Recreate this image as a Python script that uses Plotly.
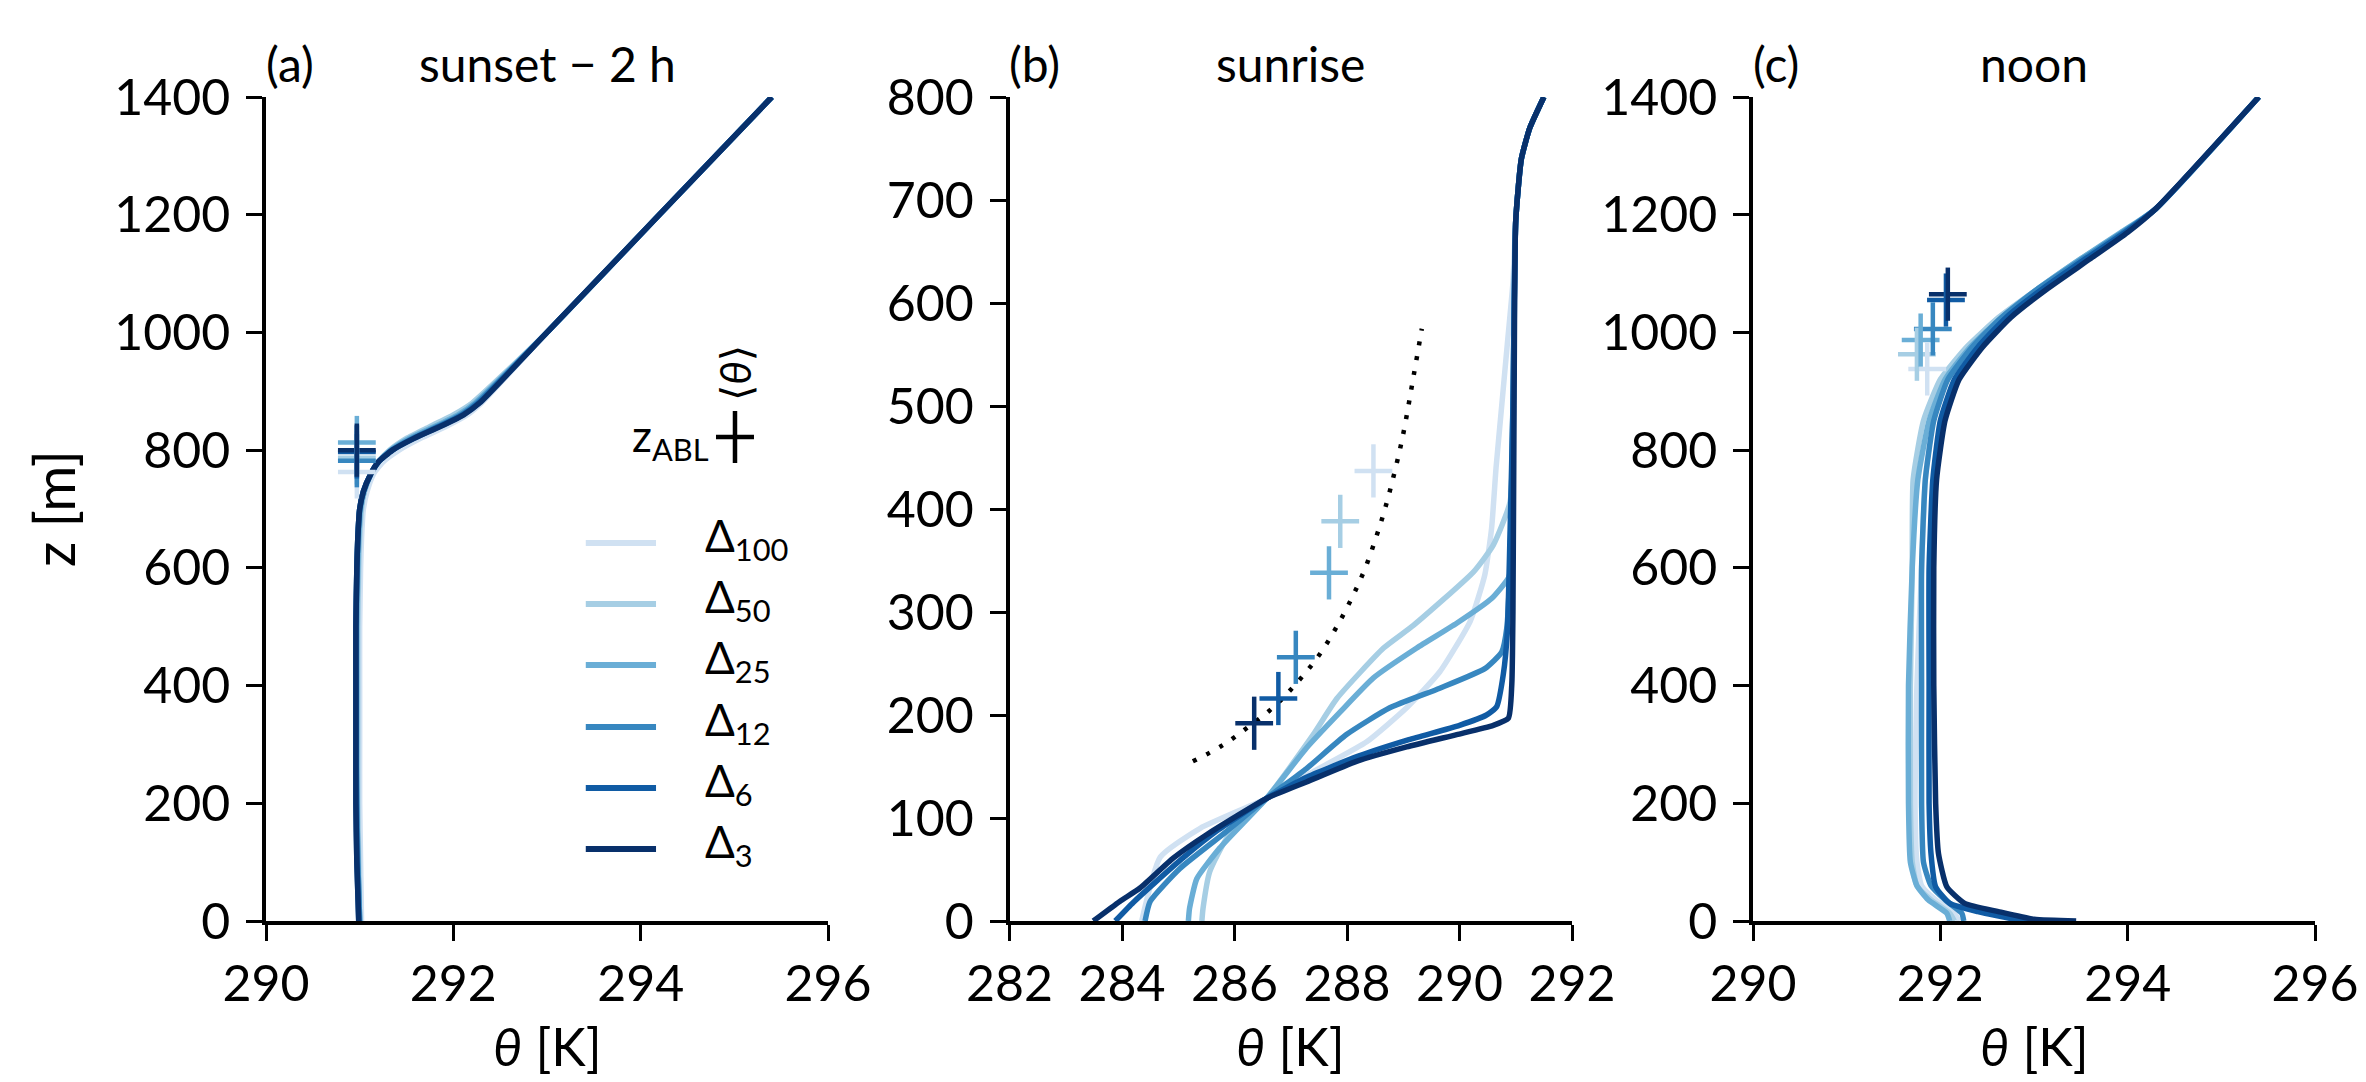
import plotly.graph_objects as go

# ---------------- data ----------------
res_names = ["100", "50", "25", "12", "6", "3"]
colors = ["#d0e1f2", "#a6cee4", "#6aaed6", "#3787c0", "#105ba4", "#08306b"]

# Panel (a): sunset - 2 h
z_a = [0, 100, 200, 300, 400, 500, 600, 650, 700, 730, 760, 780, 800, 820, 840, 860, 880, 1000, 1200, 1400]
th_a_100 = [291.02, 291.01, 291.00, 291.00, 291.00, 291.00, 291.01, 291.02, 291.04, 291.08, 291.15, 291.25, 291.42, 291.65, 291.92, 292.15, 292.30, 293.0, 294.2, 295.4]
th_a_50 = [291.00, 290.99, 290.98, 290.98, 290.98, 290.98, 290.99, 291.00, 291.02, 291.05, 291.12, 291.20, 291.32, 291.50, 291.75, 292.00, 292.20, 293.0, 294.2, 295.4]
th_a_25 = [291.00, 290.98, 290.97, 290.97, 290.97, 290.97, 290.98, 290.99, 291.01, 291.05, 291.12, 291.20, 291.33, 291.53, 291.80, 292.05, 292.23, 293.0, 294.2, 295.4]
th_a_12 = [291.00, 290.98, 290.97, 290.96, 290.96, 290.96, 290.97, 290.98, 291.00, 291.04, 291.12, 291.20, 291.34, 291.56, 291.83, 292.08, 292.25, 293.0, 294.2, 295.4]
th_a_6 = [290.99, 290.97, 290.96, 290.96, 290.96, 290.96, 290.97, 290.98, 291.00, 291.04, 291.12, 291.20, 291.35, 291.58, 291.85, 292.10, 292.27, 293.0, 294.2, 295.4]
th_a_3 = [290.99, 290.97, 290.96, 290.96, 290.96, 290.96, 290.97, 290.98, 291.00, 291.04, 291.12, 291.20, 291.35, 291.58, 291.86, 292.11, 292.28, 293.0, 294.2, 295.4]
zabl_a = [763, 787, 813, 782, 797, 800]
thm_a = [290.97, 290.97, 290.97, 290.97, 290.97, 290.97]

# Panel (b): sunrise
z_b_100 = [0, 62, 90, 119, 145, 174, 207, 242, 291, 336, 381, 440, 500, 560, 620, 680, 740, 770, 800]
th_b_100 = [284.35, 284.68, 285.39, 286.57, 287.40, 288.35, 289.06, 289.65, 290.19, 290.45, 290.57, 290.65, 290.75, 290.85, 290.95, 291.00, 291.10, 291.25, 291.50]
z_b_50 = [0, 12, 48, 80, 119, 181, 216, 265, 287, 339, 365, 407, 500, 680, 740, 770, 800]
th_b_50 = [285.42, 285.44, 285.56, 285.86, 286.57, 287.40, 287.82, 288.65, 289.18, 290.25, 290.60, 290.90, 290.95, 291.00, 291.10, 291.25, 291.50]
z_b_25 = [0, 12, 41, 71, 119, 168, 203, 236, 265, 289, 313, 333, 345, 500, 680, 740, 770, 800]
th_b_25 = [285.18, 285.20, 285.33, 285.74, 286.57, 287.28, 287.88, 288.47, 289.24, 289.95, 290.57, 290.87, 290.92, 290.96, 291.00, 291.10, 291.25, 291.50]
z_b_12 = [0, 19, 51, 87, 119, 148, 181, 207, 226, 245, 261, 284, 349, 500, 680, 740, 770, 800]
th_b_12 = [284.41, 284.50, 285.03, 285.86, 286.57, 287.28, 287.99, 288.76, 289.65, 290.45, 290.75, 290.84, 290.90, 290.95, 291.00, 291.10, 291.25, 291.50]
z_b_6 = [0, 18, 38, 62, 88, 119, 140, 160, 176, 190, 200, 208, 240, 280, 380, 500, 680, 740, 770, 800]
th_b_6 = [283.88, 284.20, 284.60, 285.10, 285.70, 286.57, 287.30, 288.20, 289.10, 290.00, 290.48, 290.66, 290.78, 290.85, 290.90, 290.95, 291.00, 291.10, 291.25, 291.50]
z_b_3 = [0, 19, 32, 61, 84, 119, 135, 155, 169, 181, 190, 197, 230, 300, 500, 680, 740, 770, 800]
th_b_3 = [283.49, 283.96, 284.32, 284.91, 285.51, 286.57, 287.28, 288.17, 289.06, 289.95, 290.60, 290.87, 290.93, 290.95, 290.97, 291.00, 291.10, 291.25, 291.50]
zabl_b = [437, 388, 338, 256, 216, 192]
thm_b = [288.47, 287.88, 287.68, 287.09, 286.78, 286.35]
# dotted reference curve
th_dot = [285.26, 285.77, 286.26, 286.72, 287.12, 287.49, 287.80, 288.08, 288.32, 288.52, 288.69, 288.97, 289.18, 289.33]
z_dot = [155, 170, 189, 209, 232, 257, 284, 313, 342, 373, 403, 465, 528, 575]

# Panel (c): noon
z_c_f = [0, 3, 16, 30, 58, 115, 200, 400, 600, 750, 850, 920, 975, 1025, 1075, 1125, 1170, 1210, 1400]
z_c_c = [0, 13, 36, 60, 100, 200, 400, 600, 750, 850, 920, 975, 1025, 1075, 1125, 1170, 1210, 1400]
th_c_100 = [292.20, 292.15, 291.95, 291.80, 291.75, 291.73, 291.75, 291.80, 291.84, 291.92, 292.05, 292.30, 292.62, 293.05, 293.52, 293.97, 294.30, 295.4]
th_c_50 = [292.15, 292.10, 291.90, 291.75, 291.70, 291.68, 291.68, 291.70, 291.71, 291.82, 292.00, 292.28, 292.62, 293.05, 293.50, 293.95, 294.30, 295.4]
th_c_25 = [292.10, 292.07, 291.87, 291.75, 291.68, 291.66, 291.66, 291.70, 291.76, 291.88, 292.05, 292.32, 292.65, 293.05, 293.50, 293.93, 294.30, 295.4]
th_c_12 = [292.25, 292.23, 292.05, 291.90, 291.82, 291.80, 291.80, 291.80, 291.84, 291.93, 292.08, 292.34, 292.65, 293.05, 293.52, 293.95, 294.30, 295.4]
th_c_6 = [293.30, 292.80, 292.40, 292.10, 291.95, 291.90, 291.88, 291.88, 291.88, 291.92, 292.00, 292.15, 292.40, 292.70, 293.10, 293.55, 293.97, 294.30, 295.4]
th_c_3 = [293.45, 293.00, 292.62, 292.26, 292.07, 291.98, 291.95, 291.93, 291.93, 291.96, 292.05, 292.20, 292.45, 292.75, 293.15, 293.60, 294.00, 294.30, 295.4]
zabl_c = [938, 963, 987, 1006, 1055, 1065]
thm_c = [291.86, 291.75, 291.79, 291.92, 292.06, 292.08]

x_ticks_a = [290, 292, 294, 296]
x_ticks_b = [282, 284, 286, 288, 290, 292]
y_ticks_a = [0, 200, 400, 600, 800, 1000, 1200, 1400]
y_ticks_b = [0, 100, 200, 300, 400, 500, 600, 700, 800]

# ---------------- figure ----------------
W, H = 2366, 1082
FONT = "Lato, 'DejaVu Sans', sans-serif"
LW = 5.5

fig = go.Figure()

panels = [
    ("x", "y", [z_a] * 6, [th_a_100, th_a_50, th_a_25, th_a_12, th_a_6, th_a_3], thm_a, zabl_a),
    ("x2", "y2", [z_b_100, z_b_50, z_b_25, z_b_12, z_b_6, z_b_3],
     [th_b_100, th_b_50, th_b_25, th_b_12, th_b_6, th_b_3], thm_b, zabl_b),
    ("x3", "y3", [z_c_c, z_c_c, z_c_c, z_c_c, z_c_f, z_c_f],
     [th_c_100, th_c_50, th_c_25, th_c_12, th_c_6, th_c_3], thm_c, zabl_c),
]

for xr, yr, zs, ths, thm, zabl in panels:
    for i in range(6):
        fig.add_trace(go.Scatter(
            x=ths[i], y=zs[i], xaxis=xr, yaxis=yr, mode="lines",
            line=dict(color=colors[i], width=LW, shape="spline", smoothing=0.5),
            name="Δ" + res_names[i], showlegend=False, hoverinfo="skip"))
    if xr == "x2":
        fig.add_trace(go.Scatter(
            x=th_dot, y=z_dot, xaxis=xr, yaxis=yr, mode="lines",
            line=dict(color="black", width=4.5, dash="4px,11px", shape="spline"),
            showlegend=False, hoverinfo="skip"))
    fig.add_trace(go.Scatter(
        x=thm, y=zabl, xaxis=xr, yaxis=yr, mode="markers",
        marker=dict(symbol="line-ew", size=27, line=dict(color=colors, width=4.5)),
        showlegend=False, hoverinfo="skip", cliponaxis=False))
    fig.add_trace(go.Scatter(
        x=thm, y=zabl, xaxis=xr, yaxis=yr, mode="markers",
        marker=dict(symbol="line-ns", size=38, line=dict(color=colors, width=4.5)),
        showlegend=False, hoverinfo="skip", cliponaxis=False))


def px(xp):
    return xp / W


def py(yp):
    return (H - yp) / H


y_dom = [py(921), py(97)]
dom_a = [px(266), px(828)]
dom_b = [px(1009.5), px(1572)]
dom_c = [px(1753), px(2315)]

axis_common = dict(
    showline=True, linecolor="black", linewidth=3.5, mirror=False,
    ticks="outside", ticklen=16, tickwidth=3, tickcolor="black",
    showgrid=False, zeroline=False, automargin=False,
    tickfont=dict(family=FONT, size=50, color="black"),
)

fig.update_layout(
    width=W, height=H,
    margin=dict(l=0, r=0, t=0, b=0),
    plot_bgcolor="white", paper_bgcolor="white",
    font=dict(family=FONT, color="black"),
    xaxis=dict(domain=dom_a, range=[290, 296], tickvals=x_ticks_a, anchor="y", **axis_common),
    yaxis=dict(domain=y_dom, range=[0, 1400], tickvals=y_ticks_a, anchor="x", ticklabelstandoff=6, **axis_common),
    xaxis2=dict(domain=dom_b, range=[282, 292], tickvals=x_ticks_b, anchor="y2", **axis_common),
    yaxis2=dict(domain=y_dom, range=[0, 800], tickvals=y_ticks_b, anchor="x2", ticklabelstandoff=6, **axis_common),
    xaxis3=dict(domain=dom_c, range=[290, 296], tickvals=x_ticks_a, anchor="y3", **axis_common),
    yaxis3=dict(domain=y_dom, range=[0, 1400], tickvals=y_ticks_a, anchor="x3", ticklabelstandoff=6, **axis_common),
)

ann = []
titles = [("(a)", "sunset − 2 h", dom_a), ("(b)", "sunrise", dom_b), ("(c)", "noon", dom_c)]
for lab, tit, dom in titles:
    ann.append(dict(text=lab, x=dom[0] - 0.001, y=py(64), xref="paper", yref="paper",
                    xanchor="left", yanchor="middle", showarrow=False,
                    font=dict(family=FONT, size=48)))
    ann.append(dict(text=tit, x=(dom[0] + dom[1]) / 2, y=py(64), xref="paper", yref="paper",
                    xanchor="center", yanchor="middle", showarrow=False,
                    font=dict(family=FONT, size=48)))
    ann.append(dict(text="<i>θ</i> [K]", x=(dom[0] + dom[1]) / 2, y=py(1046), xref="paper", yref="paper",
                    xanchor="center", yanchor="middle", showarrow=False,
                    font=dict(family=FONT, size=52)))
ann.append(dict(text="z [m]", x=px(54), y=py(509), xref="paper", yref="paper",
                xanchor="center", yanchor="middle", textangle=-90, showarrow=False,
                font=dict(family=FONT, size=56)))

# legend (inside panel a)
leg_rows = [0.4587, 0.3847, 0.3107, 0.2354, 0.1614, 0.0874]
shapes = []
for i in range(6):
    shapes.append(dict(type="line", xref="x domain", yref="y domain",
                       x0=0.569, x1=0.694, y0=leg_rows[i], y1=leg_rows[i],
                       line=dict(color=colors[i], width=6)))
    ann.append(dict(text="Δ<sub>" + res_names[i] + "</sub>", xref="x domain", yref="y domain",
                    x=0.778, y=leg_rows[i] + 0.006, xanchor="left", yanchor="middle",
                    showarrow=False, font=dict(family=FONT, size=44)))
shapes.append(dict(type="line", xref="x domain", yref="y domain",
                   x0=0.8007, x1=0.8683, y0=0.5874, y1=0.5874, line=dict(color="black", width=4.5)))
shapes.append(dict(type="line", xref="x domain", yref="y domain",
                   x0=0.8345, x1=0.8345, y0=0.5558, y1=0.6189, line=dict(color="black", width=4.5)))
ann.append(dict(text="z<sub>ABL</sub>", xref="x domain", yref="y domain",
                x=0.792, y=0.585, xanchor="right", yanchor="middle",
                showarrow=False, font=dict(family=FONT, size=44)))
ann.append(dict(text="⟨<i>θ</i>⟩", xref="x domain", yref="y domain",
                x=0.8345, y=0.665, xanchor="center", yanchor="middle", textangle=-90,
                showarrow=False, font=dict(family=FONT, size=42)))

fig.update_layout(annotations=ann, shapes=shapes)
fig.write_html("out.html", config={"displayModeBar": False},
               post_script="document.body.style.margin='0px';document.body.style.padding='0px';")
